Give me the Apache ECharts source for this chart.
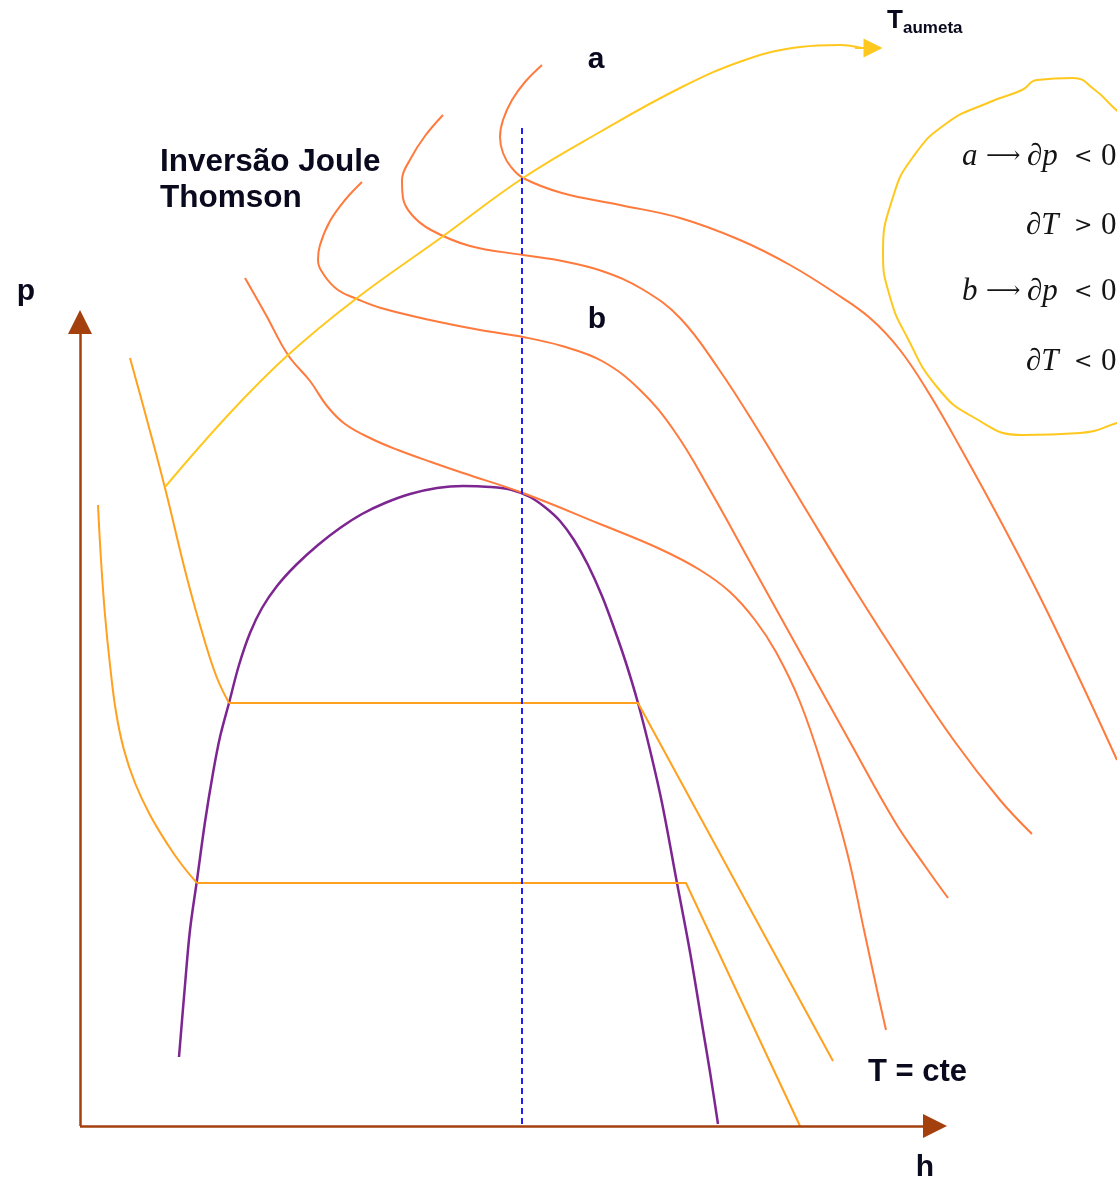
<!DOCTYPE html>
<html>
<head>
<meta charset="utf-8">
<title>Diagrama p-h: inversão Joule-Thomson</title>
<script src="https://cdn.jsdelivr.net/npm/echarts@6/dist/echarts.min.js"></script>
<style>
  html, body { margin: 0; padding: 0; background: #ffffff; }
  #chart { width: 1117px; height: 1186px; }
</style>
</head>
<body>
<div id="chart"></div>
<script>
// Diagram space: h grows to the right, p grows upward (y axis drawn inverted, 0 at top).

// saturation dome
const saturationDome = [[179,1057],[185,985],[190,930],[197,880],[205,822],[213,773],[220,737],[229,703],[239,665],[250,633],[262,608],[277,586],[296,565],[318,545],[340,528],[362,514],[385,503],[410,494],[437,488],[463,486],[490,487],[512,490],[530,497],[546,508],[560,521],[574,540],[588,565],[602,596],[614,628],[626,663],[638,703],[650,750],[662,803],[677,883],[690,952],[703,1030],[710,1072],[718,1124]];

// isotherms (T = cte): liquid branch, then two-phase plateau and vapour branch
const isothermLowLiquid = [[98,505],[101,560],[105,615],[110,665],[116,712],[124,750],[135,783],[150,815],[168,845],[182,865],[197,883]];
const isothermLowVapour = [[197,883],[686,883],[800,1126]];
const isothermHighLiquid = [[130,358],[147,420],[165,488],[187,578],[205,642],[217,678],[229,703]];
const isothermHighVapour = [[229,703],[638,703],[833,1061]];

// isenthalpic expansion curves
const isenthalp1 = [[245,278],[266,315],[288,355],[310,381],[327,406],[345,424],[372,439],[398,450],[431,462],[463,473],[523,493],[600,524],[660,549],[700,570],[730,592],[755,620],[776,652],[800,702],[824,772],[847,852],[864,930],[877,990],[886,1030]];
const isenthalp2 = [[362,182],[345,200],[330,221],[320,245],[318,260],[324,275],[338,290],[357,299],[381,308],[430,320],[480,330],[523,337],[562,346],[602,361],[640,390],[675,432],[710,490],[750,562],[800,652],[850,742],[895,822],[925,866],[948,898]];
const isenthalp3 = [[443,115],[425,136],[411,158],[402,180],[403,198],[412,215],[431,230],[470,246],[523,255],[562,261],[602,271],[642,289],[680,318],[718,368],[758,430],[805,508],[855,590],[905,668],[955,742],[1000,800],[1032,834]];
const isenthalp4 = [[542,65],[525,82],[512,100],[503,120],[500,137],[503,153],[511,167],[523,178],[562,193],[620,205],[680,218],[740,240],[790,265],[835,293],[870,318],[900,350],[930,395],[960,447],[1000,520],[1040,597],[1080,680],[1117,760]];

// inversion (T aumenta) curve and its arrow tip
const inversionCurve = [[165,487],[230,413],[288,355],[357,298],[442,237],[523,178],[600,132],[680,88],[745,60],[800,47],[840,45],[862,48]];
const inversionArrow = [[855,48],[873,48]];

// outline round the sign rules
const rulesOutline = [[1130,122],[1113,107],[1095,90],[1073,78],[1037,80],[1022,90],[990,102],[947,123],[913,157],[893,197],[883,253],[890,297],[907,337],[937,387],[973,417],[1023,435],[1080,433],[1117,423],[1135,416]];

// constant enthalpy through the critical point
const criticalIsenthalp = [[522,128],[522,1126]];

// coordinate axes (origin, tip)
const axisP = [[80,1126],[80,322]];
const axisH = [[80,1126],[935,1126]];

// text annotations
const labelTexts = ['a', 'b', 'Inversão Joule', 'Thomson', 'p', 'h', 'T = cte'];
const labelAnchors = [[596,60],[597,320],[160,162],[160,198],[26,292],[925,1168],[868,1072]];
const labelAlign = ['center','center','left','left','center','center','left'];
const labelSizes = [30, 30, 31.5, 31.5, 30, 30, 31];

const ruleRows = ['{a|a}{arr|⟶}{m|∂p}{r|<}{n|0}', '{d|∂T}{r|>}{n|0}', '{a|b}{arr|⟶}{m|∂p}{r|<}{n|0}', '{d|∂T}{r|<}{n|0}'];
const ruleAnchors = [[962,157],[1026,226],[962,292],[1026,362]];

const chart = echarts.init(document.getElementById('chart'), null, { renderer: 'canvas' });

const ORANGE_RED = '#FF7A3C';
const ORANGE = '#FFA01E';
const YELLOW = '#FFC81E';
const PURPLE = '#7D2590';
const BROWN = '#A3400E';
const INK = '#0A0A1E';
const MATH_INK = '#141414';

function curve(name, data, color, smooth, width) {
  return {
    name, type: 'line', data, smooth, showSymbol: false, silent: true,
    lineStyle: { color, width: width || 2 }, z: 3
  };
}

function arrow(name, data, color, width, size) {
  return {
    name, type: 'lines', coordinateSystem: 'cartesian2d', silent: true,
    symbol: ['none', 'triangle'], symbolSize: size,
    lineStyle: { color, width, opacity: 1, curveness: 0 },
    data: [{ coords: data }], z: 4
  };
}

const sansBold = { fontFamily: 'Liberation Sans, Arial, sans-serif', fontWeight: 'bold', color: INK, opacity: 1, textBorderWidth: 0 };
const mathItalic = { fontFamily: 'Liberation Serif, serif', fontStyle: 'italic', fontSize: 31, color: MATH_INK, align: 'left' };

const textSeries = {
  type: 'scatter', silent: true, symbolSize: 0,
  itemStyle: { color: 'transparent', opacity: 1 }, z: 6,
  data: labelTexts.map((t, i) => ({
    value: labelAnchors[i],
    label: Object.assign({
      show: true, position: [0, 0], formatter: t, align: labelAlign[i], verticalAlign: 'middle',
      fontSize: labelSizes[i]
    }, sansBold)
  })).concat([
    {
      value: [895, 21],
      label: Object.assign({ show: true, position: [0, 0], formatter: 'T', align: 'center', verticalAlign: 'middle', fontSize: 26 }, sansBold)
    },
    {
      value: [903, 28],
      label: Object.assign({ show: true, position: [0, 0], formatter: 'aumeta', align: 'left', verticalAlign: 'middle', fontSize: 17 }, sansBold)
    }
  ]).concat(ruleRows.map((t, i) => ({
    value: ruleAnchors[i],
    label: {
      show: true, position: [0, 0], formatter: t, align: 'left', verticalAlign: 'middle', opacity: 1,
      rich: {
        a: Object.assign({}, mathItalic, { width: 24 }),
        arr: { fontFamily: 'DejaVu Serif, serif', fontSize: 24, color: MATH_INK, width: 41, align: 'left' },
        m: Object.assign({}, mathItalic, { width: 47 }),
        d: Object.assign({}, mathItalic, { width: 48 }),
        r: { fontFamily: 'DejaVu Serif, serif', fontSize: 22, color: MATH_INK, width: 27, align: 'left' },
        n: { fontFamily: 'Liberation Serif, serif', fontSize: 31, color: MATH_INK, align: 'left' }
      }
    }
  })))
};

chart.setOption({
  animation: false,
  backgroundColor: '#ffffff',
  grid: { left: 0, right: 0, top: 0, bottom: 0 },
  xAxis: { type: 'value', min: 0, max: 1117, show: false },
  yAxis: { type: 'value', min: 0, max: 1186, inverse: true, show: false },
  series: [
    curve('dome', saturationDome, PURPLE, 0.35, 2.5),
    curve('T low liquid', isothermLowLiquid, ORANGE, 0.4),
    curve('T low vapour', isothermLowVapour, ORANGE, false),
    curve('T high liquid', isothermHighLiquid, ORANGE, 0.4),
    curve('T high vapour', isothermHighVapour, ORANGE, false),
    curve('h1', isenthalp1, ORANGE_RED, 0.4),
    curve('h2', isenthalp2, ORANGE_RED, 0.4),
    curve('h3', isenthalp3, ORANGE_RED, 0.4),
    curve('h4', isenthalp4, ORANGE_RED, 0.4),
    curve('inversion', inversionCurve, YELLOW, 0.4),
    arrow('inversion tip', inversionArrow, YELLOW, 2, [15, 19]),
    curve('rules outline', rulesOutline, YELLOW, 0.5),
    {
      name: 'critical isenthalp', type: 'line', data: criticalIsenthalp, showSymbol: false, silent: true,
      lineStyle: { color: '#1E1EFF', width: 2, type: [6, 4] }, z: 5
    },
    arrow('axis p', axisP, BROWN, 2.5, [21, 24]),
    arrow('axis h', axisH, BROWN, 2.5, [21, 24]),
    textSeries
  ]
});
</script>
</body>
</html>
